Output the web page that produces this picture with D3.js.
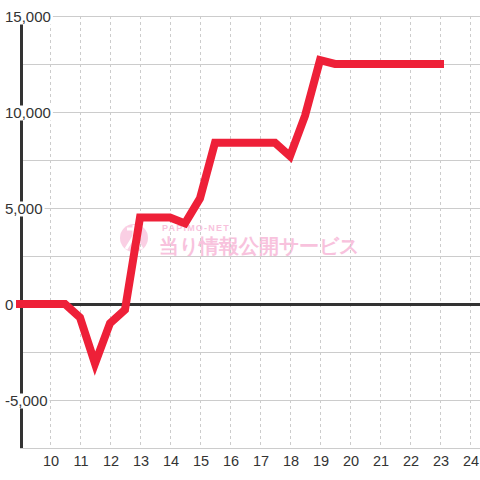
<!DOCTYPE html>
<html lang="ja">
<head>
<meta charset="UTF-8">
<title>Chart</title>
<script src="https://cdn.jsdelivr.net/npm/d3@7"></script>
<style>
  body { margin: 0; background: #fff; }
  svg text { font-family: "Liberation Sans", Arial, sans-serif; }
</style>
</head>
<body>
<script>
// hours (half-hour steps) and balance values
const hours = [9, 9.5, 10, 10.5, 11, 11.5, 12, 12.5, 13, 13.5, 14, 14.5, 15, 15.5,
  16, 16.5, 17, 17.5, 18, 18.5, 19, 19.5, 20, 20.5, 21, 21.5, 22, 22.5, 23];
const values = [0, 0, 0, 0, -700, -3100, -1000, -300, 4500, 4500, 4500, 4200, 5500, 8400,
  8400, 8400, 8400, 8400, 7700, 9800, 12700, 12500, 12500, 12500, 12500, 12500, 12500, 12500, 12500];
const xTicks = [10, 11, 12, 13, 14, 15, 16, 17, 18, 19, 20, 21, 22, 23, 24];
const yGrid = [-7500, -5000, -2500, 0, 2500, 5000, 7500, 10000, 12500, 15000];
const yLabels = [-5000, 0, 5000, 10000, 15000];

const width = 480, height = 480;
const svg = d3.select("body").append("svg")
  .attr("width", width).attr("height", height);

const x = d3.scaleLinear().domain([9, 24 + 1 / 3]).range([20, 480]);
const y = d3.scaleLinear().domain([-7500, 15000]).range([448, 16]);

// watermark
const wm = svg.append("g").attr("opacity", 0.7);
wm.append("circle").attr("cx", 134).attr("cy", 238).attr("r", 14).attr("fill", "#f8bcd9");
wm.append("path").attr("d", "M127,229 L141,229 M134,225 L134,236 L126,249 M134,236 L142,249")
  .attr("stroke", "#fff").attr("stroke-width", 3).attr("fill", "none");
wm.append("text").attr("x", 162).attr("y", 231)
  .attr("font-size", 9).attr("font-weight", "bold").attr("fill", "#f6a9cf")
  .attr("letter-spacing", 1.2).text("PAPIMO-NET");
wm.append("text").attr("x", 159).attr("y", 253)
  .attr("font-family", "'Noto Sans CJK JP', sans-serif")
  .attr("font-size", 19.5).attr("font-weight", "bold").attr("fill", "#f6a9cf")
  .text("当り情報公開サービス");

// grid
svg.append("g").selectAll("line").data(yGrid).join("line")
  .attr("x1", x(9)).attr("x2", width)
  .attr("y1", d => y(d) + 0.5).attr("y2", d => y(d) + 0.5)
  .attr("stroke", "#cccccc").attr("stroke-width", 1);

svg.append("g").selectAll("line").data(xTicks).join("line")
  .attr("x1", d => x(d) + 0.5).attr("x2", d => x(d) + 0.5)
  .attr("y1", y(15000)).attr("y2", y(-7500))
  .attr("stroke", "#cccccc").attr("stroke-width", 1)
  .attr("stroke-dasharray", "3,3");

// zero line and y axis
svg.append("line")
  .attr("x1", x(9)).attr("x2", width)
  .attr("y1", y(0) + 0.5).attr("y2", y(0) + 0.5)
  .attr("stroke", "#333").attr("stroke-width", 3);
svg.append("line")
  .attr("x1", x(9) + 1.5).attr("x2", x(9) + 1.5)
  .attr("y1", y(15000)).attr("y2", y(-7500))
  .attr("stroke", "#333").attr("stroke-width", 3);

// y labels with white background
const fmt = d3.format(",");
const yl = svg.append("g").selectAll("g").data(yLabels).join("g")
  .attr("transform", d => `translate(0,${y(d) + 1})`);
yl.each(function (d) {
  const g = d3.select(this);
  const t = g.append("text").attr("x", 5).attr("dy", "0.36em")
    .attr("font-size", 15).attr("fill", "#333").text(d < 0 ? "-" + fmt(-d) : fmt(d));
  const b = t.node().getBBox();
  g.insert("rect", "text").attr("x", b.x - 2).attr("y", -7.5)
    .attr("width", b.width + 4).attr("height", 15).attr("fill", "#fff");
});

// line
const line = d3.line().x((d, i) => x(hours[i])).y(d => y(d));
svg.append("path").datum(values)
  .attr("d", line)
  .attr("fill", "none").attr("stroke", "#ee2038")
  .attr("stroke-width", 8).attr("stroke-linejoin", "miter")
  .attr("stroke-linecap", "square");

// x labels
svg.append("g").selectAll("text").data(xTicks).join("text")
  .attr("x", d => x(d) + 1).attr("y", 466)
  .attr("text-anchor", "middle").attr("font-size", 14.5).attr("fill", "#333")
  .text(d => d);
</script>
</body>
</html>
